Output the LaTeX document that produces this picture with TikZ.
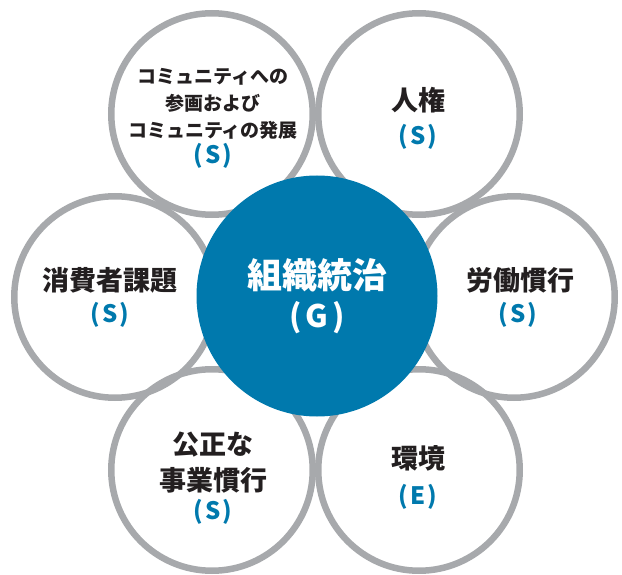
\documentclass[tikz,border=0pt]{standalone}
\usepackage{fontspec}
\setmainfont{Noto Sans CJK JP}
\definecolor{ringgray}{RGB}{167,169,172}
\definecolor{govblue}{RGB}{0,121,173}
\definecolor{txtblack}{RGB}{35,31,32}
\begin{document}
\begin{tikzpicture}[x=1pt,y=-1pt,
  ring/.style={circle,draw=ringgray,line width=6.5pt,minimum size=201.5pt,inner sep=0pt,outer sep=0pt},
  core/.style={circle,fill=govblue,minimum size=241pt,inner sep=0pt,outer sep=0pt},
  lbl/.style={text=txtblack,font=\bfseries\fontsize{27}{27}\selectfont,inner sep=0pt,align=center},
  small/.style={text=txtblack,font=\bfseries\fontsize{19}{26.5}\selectfont,inner sep=0pt,align=center},
  tag/.style={text=govblue,font=\bfseries\fontsize{24}{24}\selectfont,inner sep=0pt},
  corelbl/.style={text=white,font=\bfseries\fontsize{35}{35}\selectfont,inner sep=0pt},
  coretag/.style={text=white,font=\bfseries\fontsize{31}{31}\selectfont,inner sep=0pt}]
\useasboundingbox (0,0) rectangle (622,575);
\begin{scope}
\clip (0,0) rectangle (622,575);
\node[ring] (tl) at (212,114) {};
\node[ring] (tr) at (419,114) {};
\node[ring] (l) at (115,297) {};
\node[ring] (r) at (514,297) {};
\node[ring] (bl) at (212,470) {};
\node[ring] (br) at (419,470) {};
\node[core] (c) at (317,296) {};
\end{scope}
% top-left
\node[small] (tlt1) at (213,77) {コミュニティへの};
\node[small] (tlt2) at (213,103) {参画および};
\node[small] (tlt3) at (213,130) {コミュニティの発展};
\node[tag] (tls) at (213,156) {(\kern2pt S\kern2pt)};
% top-right
\node[lbl] (trt) at (418,100) {人権};
\node[tag] (trs) at (418,137) {(\kern2pt S\kern2pt)};
% left
\node[lbl] (lt) at (110,280) {消費者課題};
\node[tag] (ls) at (110,315) {(\kern2pt S\kern2pt)};
% right
\node[lbl] (rt) at (520,280) {労働慣行};
\node[tag] (rs) at (518,315) {(\kern2pt S\kern2pt)};
% bottom-left
\node[lbl] (blt1) at (213,445) {公正な};
\node[lbl] (blt2) at (213,480) {事業慣行};
\node[tag] (bls) at (213,512) {(\kern2pt S\kern2pt)};
% bottom-right
\node[lbl] (brt) at (418,458) {環境};
\node[tag] (brs) at (418,497) {(\kern2pt E\kern2pt)};
% center
\node[corelbl] (ct) at (317,275) {組織統治};
\node[coretag] (cs) at (317,318) {(\kern4pt G\kern4pt)};
\end{tikzpicture}
\end{document}
